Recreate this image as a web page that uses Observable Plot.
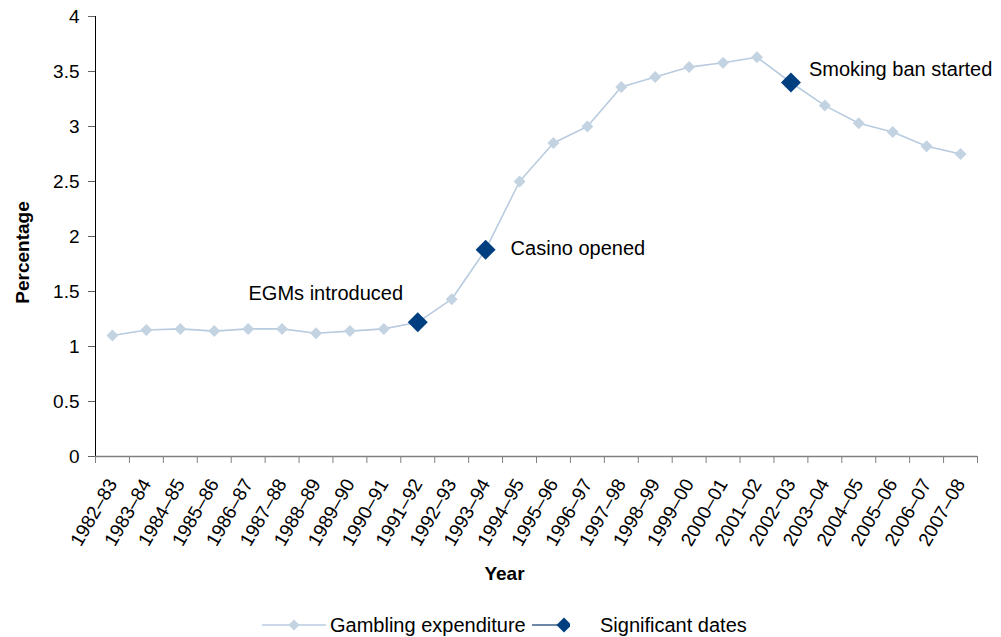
<!DOCTYPE html>
<html>
<head>
<meta charset="utf-8">
<script src="https://cdn.jsdelivr.net/npm/d3@7"></script>
<script src="https://cdn.jsdelivr.net/npm/@observablehq/plot@0.6"></script>
<style>
  html, body { margin: 0; padding: 0; background: #fff; }
  body { width: 1001px; height: 637px; overflow: hidden; font-family: "Liberation Sans", Arial, sans-serif; }
  #legend { position: relative; height: 37px; font-size: 20px; color: #000; }
  #legend .sw { position: absolute; top: 10px; }
  #legend .lbl { position: absolute; top: 13px; line-height: 24px; white-space: nowrap; }
</style>
</head>
<body>
<div id="chart"></div>
<div id="legend"></div>
<script>
const years = ["1982–83","1983–84","1984–85","1985–86","1986–87","1987–88","1988–89","1989–90","1990–91","1991–92","1992–93","1993–94","1994–95","1995–96","1996–97","1997–98","1998–99","1999–00","2000–01","2001–02","2002–03","2003–04","2004–05","2005–06","2006–07","2007–08"];
const expenditure = [1.10,1.15,1.16,1.14,1.16,1.16,1.12,1.14,1.16,1.22,1.43,1.88,2.50,2.85,3.00,3.36,3.45,3.54,3.58,3.63,3.40,3.19,3.03,2.95,2.82,2.75];
const significantYears = ["1991–92","1993–94","2002–03"];
const significantLabels = ["EGMs introduced","Casino opened","Smoking ban started"];
const yTicks = [0,0.5,1,1.5,2,2.5,3,3.5,4];

const lineColor = "#b8cbdf";
const lightColor = "#c3d3e2";
const darkColor = "#003f7f";

const series = years.map((y, i) => ({i, year: y, value: expenditure[i]}));
const sig = significantYears.map((y, k) => ({i: years.indexOf(y), value: expenditure[years.indexOf(y)], label: significantLabels[k]}));
const boundaries = years.map((_, i) => i - 0.5).concat([years.length - 0.5]);

const chart = Plot.plot({
  width: 1001,
  height: 600,
  marginTop: 16,
  marginBottom: 144,
  marginLeft: 95,
  marginRight: 24,
  style: {fontFamily: "'Liberation Sans', Arial, sans-serif", fontSize: "19px", color: "#000", background: "#fff"},
  x: {type: "linear", domain: [-0.5, years.length - 0.5], axis: null},
  y: {domain: [0, 4], axis: null},
  marks: [
    Plot.axisY({ticks: yTicks, tickSize: 7, tickPadding: 9, tickFormat: d => String(d), label: null, stroke: "#606060"}),
    Plot.ruleX([-0.5], {stroke: "#000", strokeWidth: 1}),
    Plot.ruleY([0], {stroke: "#808080", strokeWidth: 1.5}),
    Plot.axisX({ticks: boundaries, tickSize: 7, tickFormat: () => "", label: null, stroke: "#808080"}),
    Plot.axisX({ticks: series.map(d => d.i), tickSize: 0, tickPadding: 24, tickRotate: -60, tickFormat: i => years[i], label: null}),
    Plot.text(["Year"], {frameAnchor: "bottom", dx: -32, dy: 117, lineAnchor: "middle", textAnchor: "middle", text: d => d, fontWeight: "bold", fontSize: 19}),
    Plot.text(["Percentage"], {frameAnchor: "left", dx: -73, dy: 16, rotate: -90, textAnchor: "middle", text: d => d, fontWeight: "bold", fontSize: 19}),
    Plot.line(series, {x: "i", y: "value", stroke: lineColor, strokeWidth: 1.6}),
    Plot.dot(series, {x: "i", y: "value", symbol: "diamond2", r: 5.4, fill: lightColor, stroke: "none"}),
    Plot.dot(sig, {x: "i", y: "value", symbol: "diamond2", r: 9, fill: darkColor, stroke: "none"}),
    Plot.text(sig.slice(0, 1), {x: "i", y: "value", text: "label", dx: -92, dy: -29, textAnchor: "middle", fontSize: 20}),
    Plot.text(sig.slice(1, 2), {x: "i", y: "value", text: "label", dx: 25, dy: -1, textAnchor: "start", fontSize: 20}),
    Plot.text(sig.slice(2, 3), {x: "i", y: "value", text: "label", dx: 18, dy: -13, textAnchor: "start", fontSize: 20})
  ]
});
document.getElementById("chart").appendChild(chart);

// Enlarge axis tick labels
const tickTexts = new Set(years.concat(yTicks.map(String)));
d3.select(chart).selectAll("text").each(function () {
  if (tickTexts.has(this.textContent)) {
    this.style.fontSize = "19px";
    this.style.fill = "#000";
  }
});

// Legend
const legendItems = [
  {label: "Gambling expenditure", line: lineColor, marker: lightColor, size: 5.5, left: 262, w: 64, mx: 32, textLeft: 330},
  {label: "Significant dates", line: "#3d5f8a", marker: darkColor, size: 7.5, left: 532, w: 38, mx: 32, textLeft: 600}
];
const legend = d3.select("#legend");
legendItems.forEach(it => {
  const svg = legend.append("svg").attr("class", "sw").attr("width", it.w).attr("height", 30).style("left", it.left + "px");
  svg.append("line").attr("x1", 0).attr("x2", it.w).attr("y1", 15).attr("y2", 15).attr("stroke", it.line).attr("stroke-width", 1.5);
  svg.append("path").attr("d", `M${it.mx},${15 - it.size}L${it.mx + it.size},15L${it.mx},${15 + it.size}L${it.mx - it.size},15Z`).attr("fill", it.marker);
  legend.append("span").attr("class", "lbl").style("left", it.textLeft + "px").text(it.label);
});
</script>
</body>
</html>
